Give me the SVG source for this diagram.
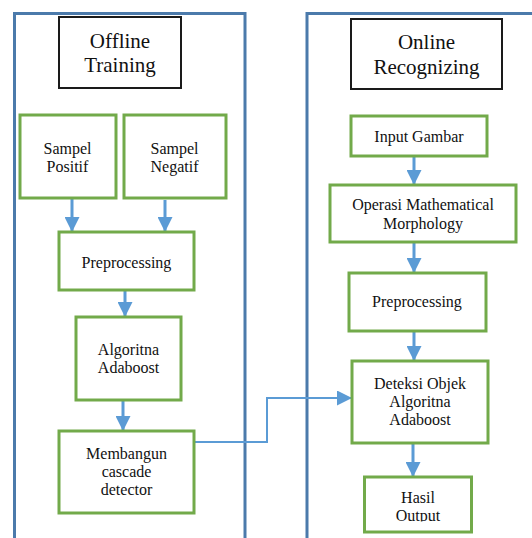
<svg xmlns="http://www.w3.org/2000/svg" width="532" height="538" viewBox="0 0 532 538">
<style>
.panel{fill:none;stroke:#4B7AAB;stroke-width:3}
.title{fill:#fff;stroke:#1a1a1a;stroke-width:2}
.box{fill:#fff;stroke:#72AA4A;stroke-width:3}
.t{font-family:"Liberation Serif","Times New Roman",serif;font-size:16px;fill:#111;text-anchor:middle}
.tt{font-family:"Liberation Serif","Times New Roman",serif;font-size:21px;fill:#111;text-anchor:middle}
.arr{fill:none;stroke:#5B9BD5;stroke-width:3;marker-end:url(#ah)}
.con{fill:none;stroke:#5B9BD5;stroke-width:2;marker-end:url(#ah)}
</style>
<defs>
<marker id="ah" markerUnits="userSpaceOnUse" markerWidth="15" markerHeight="15" refX="15" refY="7.5" orient="auto">
<path d="M0,0 L15,7.5 L0,15 z" fill="#5B9BD5"/>
</marker>
<clipPath id="hclip"><rect x="364" y="477" width="108" height="44.5"/></clipPath>
</defs>
<rect width="532" height="538" fill="#fff"/>
<g id="panel-offline"><rect class="panel" x="14.5" y="13.5" width="230.5" height="560"/></g>
<g id="panel-online"><rect class="panel" x="307" y="13.5" width="260" height="560"/></g>
<g id="connectors">
<path class="arr" d="M72,198 V232"/>
<path class="arr" d="M165,200 V232"/>
<path class="arr" d="M125,290 V317"/>
<path class="arr" d="M123,400 V431"/>
<path class="arr" d="M414,156 V185"/>
<path class="arr" d="M414,242 V273"/>
<path class="arr" d="M414,331 V361"/>
<path class="arr" d="M413,443 V477"/>
<path class="con" d="M194,442 H267 V398 H352"/>
</g>
<g id="offline-training"><rect class="title" x="59" y="17" width="122" height="71"/><text class="tt" x="120" y="47.5">Offline</text><text class="tt" x="120" y="72">Training</text></g>
<g id="sampel-positif"><rect class="box" x="20" y="115" width="96" height="83"/><text class="t" x="67.5" y="153.5">Sampel</text><text class="t" x="67.5" y="172">Positif</text></g>
<g id="sampel-negatif"><rect class="box" x="124" y="115" width="102" height="83"/><text class="t" x="174.5" y="153.5">Sampel</text><text class="t" x="174.5" y="172">Negatif</text></g>
<g id="preprocessing-left"><rect class="box" x="59" y="232" width="135" height="58"/><text class="t" x="126.5" y="267.5">Preprocessing</text></g>
<g id="algoritna-adaboost"><rect class="box" x="76" y="317" width="105" height="83"/><text class="t" x="128.5" y="355">Algoritna</text><text class="t" x="128.5" y="373">Adaboost</text></g>
<g id="membangun"><rect class="box" x="59" y="431" width="135" height="82"/><text class="t" x="126.5" y="458.5">Membangun</text><text class="t" x="126.5" y="477">cascade</text><text class="t" x="126.5" y="495">detector</text></g>
<g id="online-recognizing"><rect class="title" x="351" y="19" width="151" height="70"/><text class="tt" x="426.5" y="48.5">Online</text><text class="tt" x="426.5" y="73.5">Recognizing</text></g>
<g id="input-gambar"><rect class="box" x="351" y="116" width="136" height="40"/><text class="t" x="419" y="141.5">Input Gambar</text></g>
<g id="operasi"><rect class="box" x="330" y="185" width="186" height="57"/><text class="t" x="423" y="210">Operasi Mathematical</text><text class="t" x="423" y="229">Morphology</text></g>
<g id="preprocessing-right"><rect class="box" x="349" y="273" width="137" height="58"/><text class="t" x="417" y="307">Preprocessing</text></g>
<g id="deteksi"><rect class="box" x="352" y="361" width="136" height="82"/><text class="t" x="420" y="388.5">Deteksi Objek</text><text class="t" x="420" y="407">Algoritna</text><text class="t" x="420" y="425">Adaboost</text></g>
<g id="hasil-output"><rect class="box" x="364.5" y="477" width="107" height="55"/><g clip-path="url(#hclip)"><text class="t" x="418" y="503">Hasil</text><text class="t" x="418" y="521">Output</text></g></g>
</svg>
